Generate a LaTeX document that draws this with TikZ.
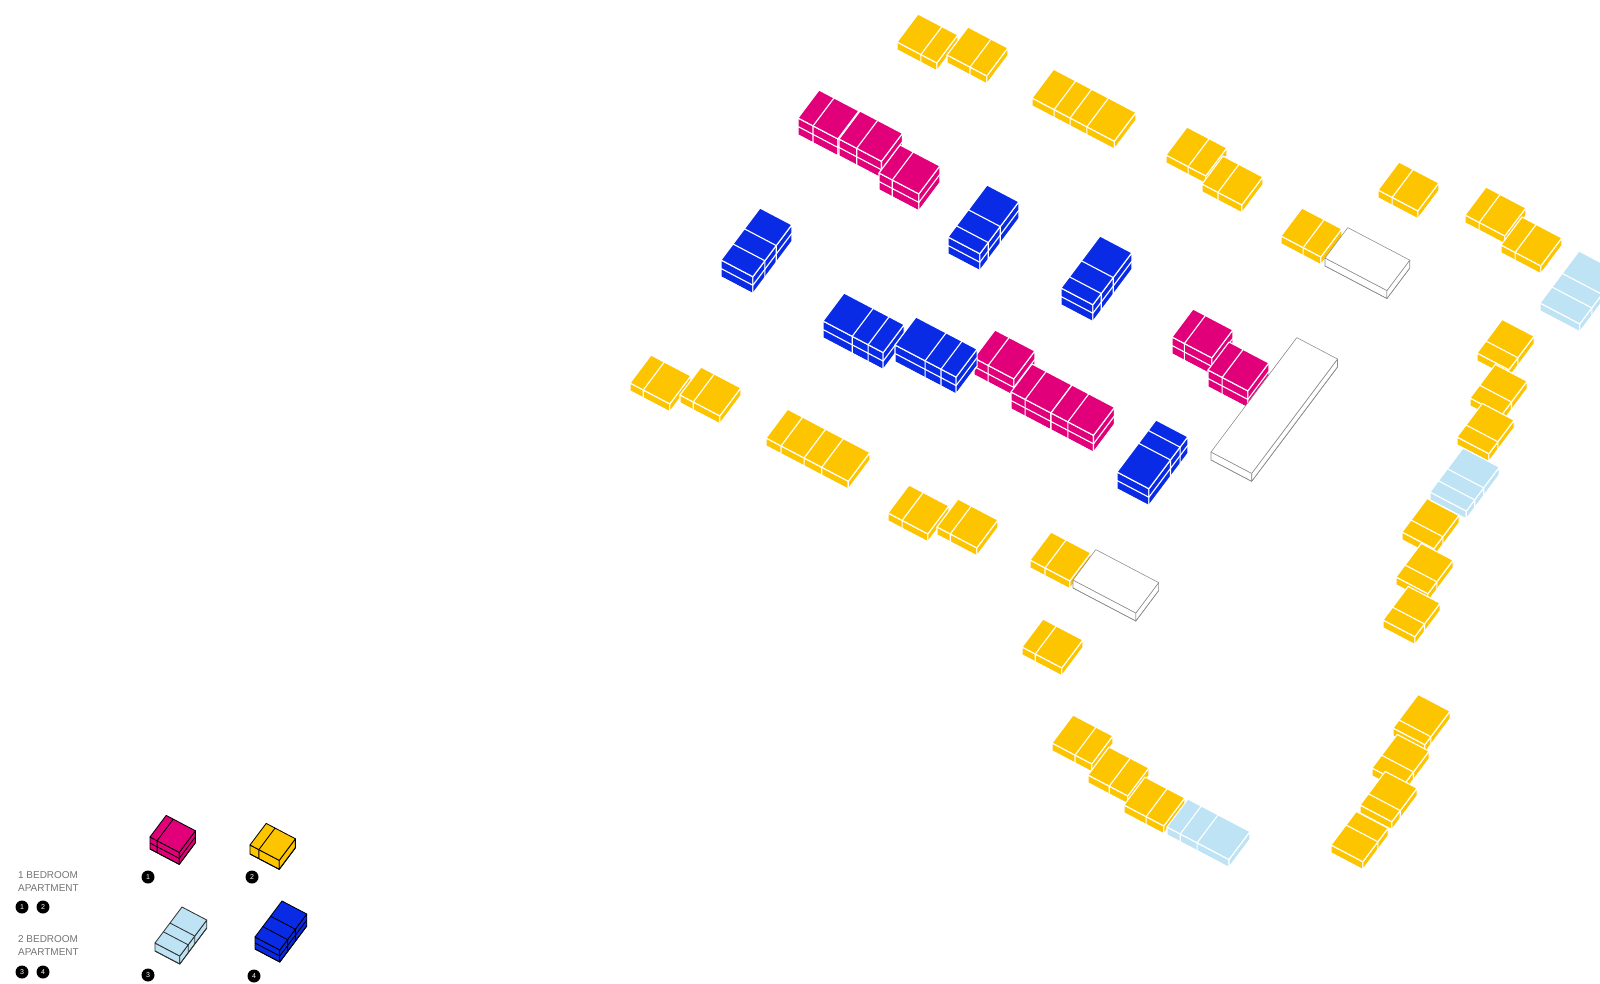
\documentclass[tikz,border=0pt]{standalone}
\usepackage{fontspec}
\setmainfont{Liberation Sans}
\definecolor{flatgold}{HTML}{FDC500}
\definecolor{flatpink}{HTML}{E2007A}
\definecolor{flatblue}{HTML}{0A2BE6}
\definecolor{flatsky}{HTML}{BDE3F5}
\tikzset{
  goldblk/.style={fill=flatgold,draw=white,line width=1.6pt,line join=round},
  pinkblk/.style={fill=flatpink,draw=white,line width=1.6pt,line join=round},
  blueblk/.style={fill=flatblue,draw=white,line width=1.6pt,line join=round},
  skyblk/.style={fill=flatsky,draw=white,line width=1.6pt,line join=round},
  voidblk/.style={fill=white,draw=black!45,line width=0.8pt,line join=round},
  pinkkey/.style={fill=flatpink,draw=black,line width=1.2pt,line join=round},
  goldkey/.style={fill=flatgold,draw=black,line width=1.2pt,line join=round},
  bluekey/.style={fill=flatblue,draw=black,line width=1.2pt,line join=round},
  skykey/.style={fill=flatsky,draw=black!80,line width=1.2pt,line join=round},
  bullet/.style={circle,fill=black,text=white,inner sep=0pt,minimum size=0.65cm,font=\fontsize{10}{10}\selectfont},
  aptlabel/.style={anchor=west,align=left,inner sep=0pt,text=black!55,font=\fontsize{14.2}{18.5}\selectfont}
}
% style, floor height, floors, left corner x, y, length, depth, cuts along length, cuts along depth
\newcommand{\bldg}[9]{%
  \begin{scope}[shift={(#4,#5)},x={(0.04425cm,-0.02325cm)},y={(0.03cm,0.04cm)},z={(0cm,0.05cm)}]
    \def\ulen{#6}\def\vlen{#7}\pgfmathsetmacro\hgt{#2*#3}
    \path[#1](0,0,0)--(\ulen,0,0)--(\ulen,0,-\hgt)--(0,0,-\hgt)--cycle;
    \path[#1](\ulen,0,0)--(\ulen,\vlen,0)--(\ulen,\vlen,-\hgt)--(\ulen,0,-\hgt)--cycle;
    \path[#1](0,0,0)--(\ulen,0,0)--(\ulen,\vlen,0)--(0,\vlen,0)--cycle;
    \foreach \flr in {1,...,#3}{\path[#1,fill=none](0,0,-#2*\flr)--(\ulen,0,-#2*\flr)--(\ulen,\vlen,-#2*\flr);}
    \foreach \cut in {#8}{\ifx\cut\empty\else\path[#1,fill=none](\cut,\vlen,0)--(\cut,0,0)--(\cut,0,-\hgt);\fi}
    \foreach \cut in {#9}{\ifx\cut\empty\else\path[#1,fill=none](0,\cut,0)--(\ulen,\cut,0)--(\ulen,\cut,-\hgt);\fi}
  \end{scope}}
\newcommand{\gold}{\bldg{goldblk}{8}{1}}
\newcommand{\sky}{\bldg{skyblk}{8}{1}}
\newcommand{\pink}{\bldg{pinkblk}{8.5}{2}}
\newcommand{\blue}{\bldg{blueblk}{8.5}{2}}
\newcommand{\void}{\bldg{voidblk}{8}{1}}
\begin{document}
\begin{tikzpicture}[x=0.05cm,y=-0.05cm]
  \useasboundingbox (0,0) rectangle (1600,984);
  % gold pairs
  \foreach \x/\y/\ca in {897/42/27,947/55/26,1166/155/25,1202/184/18,1281/236/25,1378/190/16,1465/215/16,1501/245/16,1030/560/17,1022/647/15,630/383/15,680/395/15,888/513/16,937/527/15,1052/743/26,1088/775/24,1124/805/25}{\gold{\x}{\y}{45}{35}{\ca}{}}
  \gold{1032}{98}{93}{36}{25,43,62}{}
  \gold{766}{438}{93}{36}{17,43,63}{}
  % gold columns on the right
  \foreach \x/\y/\ca in {1477/353/15,1470/398/16,1457/437/15,1402/532/15,1396/577/15,1383/620/16,1393/728/10,1372/768/16,1360/805/14,1331/845/25}{\gold{\x}{\y}{36}{42}{}{\ca}}
  % pale blue
  \sky{1540}{303}{45}{65}{}{20,37}
  \sky{1430}{492}{41}{55}{}{14,29}
  \sky{1167}{827}{70}{35}{15,34}{}
  % pink
  \pink{798}{118}{45}{35}{17}{}
  \pink{839}{139}{48}{35}{20}{}
  \foreach \x/\y/\ca in {879/173/15,974/358/16,1011/392/16,1172/337/14,1208/370/16}{\pink{\x}{\y}{45}{35}{\ca}{}}
  \pink{1051}{413}{48}{35}{19}{}
  % blue
  \foreach \x/\y/\ca/\cb in {721/260/20/39,948/237/14/34,1061/288/14/34,1117/472/36/52}{\blue{\x}{\y}{36}{65}{}{\ca,\cb}}
  \blue{823}{321}{68}{35}{33,51}{}
  \blue{895}{345}{69}{35}{34,52}{}
  % empty plots
  \void{1325}{258}{70}{38}{}{}
  \void{1073}{580}{71}{38}{}{}
  \void{1211}{452}{46}{143}{}{}
  % key
  \bldg{pinkkey}{6}{2}{150}{837}{33}{27}{8}{}
  \bldg{goldkey}{9}{1}{250}{845}{33}{27}{10}{}
  \bldg{skykey}{8}{1}{155}{943}{28}{45}{}{14,25}
  \bldg{bluekey}{6}{2}{255}{937}{28}{45}{}{13,26}
  \node[aptlabel] (onebed) at (18,881.5) {1 BEDROOM\\APARTMENT};
  \node[aptlabel] (twobed) at (18,945.5) {2 BEDROOM\\APARTMENT};
  \node[bullet] (keya) at (148,877) {1};
  \node[bullet] (keyb) at (252,877) {2};
  \node[bullet] (keyc) at (148,975) {3};
  \node[bullet] (keyd) at (254,976) {4};
  \node[bullet] (onea) at (22,907) {1};
  \node[bullet] (oneb) at (43,907) {2};
  \node[bullet] (twoa) at (22,972) {3};
  \node[bullet] (twob) at (43,972) {4};
\end{tikzpicture}
\end{document}
